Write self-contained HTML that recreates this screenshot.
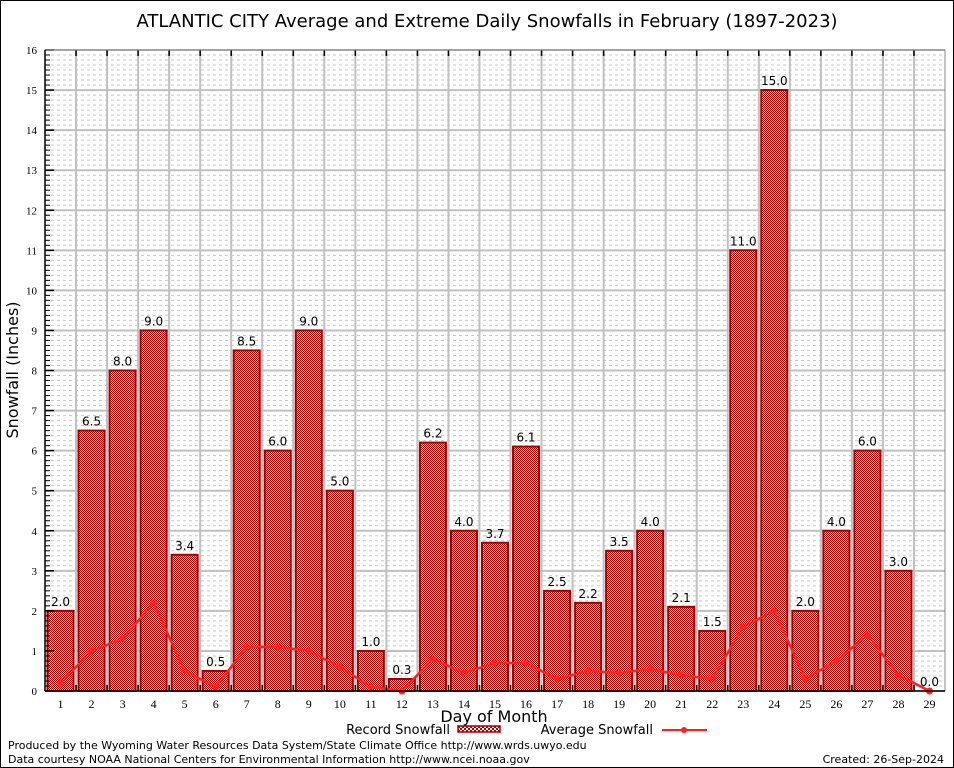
<!DOCTYPE html>
<html><head><meta charset="utf-8"><style>
body{margin:0;background:#fff}
svg{display:block;font-family:"DejaVu Sans","Liberation Sans",sans-serif}
</style></head><body>
<svg id="c" width="954" height="768" viewBox="0 0 954 768">
<defs>
<pattern id="chk" width="2" height="2" patternUnits="userSpaceOnUse"><rect width="2" height="2" fill="#f4dede"/><rect width="1" height="1" fill="#b00000"/><rect x="1" y="1" width="1" height="1" fill="#b00000"/></pattern>
<pattern id="chk2" width="4" height="4" patternUnits="userSpaceOnUse"><rect width="4" height="4" fill="#fff"/><rect width="2" height="2" fill="#c00000"/><rect x="2" y="2" width="2" height="2" fill="#c00000"/></pattern>
</defs>
<rect x="0.5" y="0.5" width="953" height="767" fill="#fff" stroke="#000"/>
<text x="487" y="27" text-anchor="middle" font-size="18">ATLANTIC CITY Average and Extreme Daily Snowfalls in February (1897-2023)</text>
<g id="grid"></g><g id="bars"></g><g id="line"></g><g id="axes"></g>
<text transform="translate(18,370) rotate(-90)" text-anchor="middle" font-size="16">Snowfall (Inches)</text>
<text x="494" y="722" text-anchor="middle" font-size="16">Day of Month</text>
<g font-size="13">
<text x="450" y="734" text-anchor="end">Record Snowfall</text>
<rect x="458" y="726" width="42" height="6" fill="url(#chk2)" stroke="#a00000" stroke-width="1.5"/>
<text x="653" y="734" text-anchor="end">Average Snowfall</text>
<line x1="662" y1="730" x2="707" y2="730" stroke="#ff2020" stroke-width="2"/>
<circle cx="684" cy="730" r="3" fill="#ff2020"/>
</g>
<text x="8" y="749" font-size="11">Produced by the Wyoming Water Resources Data System/State Climate Office http://www.wrds.uwyo.edu</text>
<text x="8" y="763" font-size="11">Data courtesy NOAA National Centers for Environmental Information http://www.ncei.noaa.gov</text>
<text x="944" y="763" font-size="11" text-anchor="end">Created: 26-Sep-2024</text>
</svg>
<script>
const days=[1,2,3,4,5,6,7,8,9,10,11,12,13,14,15,16,17,18,19,20,21,22,23,24,25,26,27,28,29];
const records=[2.0,6.5,8.0,9.0,3.4,0.5,8.5,6.0,9.0,5.0,1.0,0.3,6.2,4.0,3.7,6.1,2.5,2.2,3.5,4.0,2.1,1.5,11.0,15.0,2.0,4.0,6.0,3.0,0.0];
const averages=[0.2,1.0,1.3,2.2,0.5,0.1,1.1,1.1,1.0,0.6,0.1,0.0,0.8,0.45,0.7,0.7,0.3,0.5,0.45,0.55,0.4,0.3,1.6,2.0,0.3,0.75,1.4,0.4,0.0];
const yTicks=[0,1,2,3,4,5,6,7,8,9,10,11,12,13,14,15,16];
const L=45,R=945,T=50,B=691,YMAX=16;
const step=(R-L)/days.length;
const xs=d=>L+(d-0.5)*step;
const ys=v=>B-v/YMAX*(B-T);
const NS="http://www.w3.org/2000/svg";
function mk(tag,attrs,parent,txt){const e=document.createElementNS(NS,tag);for(const k in attrs)e.setAttribute(k,attrs[k]);if(txt!==undefined)e.textContent=txt;parent.appendChild(e);return e;}
const grid=document.getElementById('grid'),bars=document.getElementById('bars'),line=document.getElementById('line'),axes=document.getElementById('axes');
for(let v=0;v<YMAX;v+=0.125){if(Math.abs(v-Math.round(v))<1e-6)continue;const y=ys(v);
const g=mk('line',{x1:L,x2:R,y1:y,y2:y,stroke:'#c8c8c8','stroke-width':1,'stroke-dasharray':'3,3'},grid);

}
yTicks.forEach(v=>{const y=ys(v);
const g=mk('line',{x1:L,x2:R,y1:y,y2:y,stroke:'#c0c0c0','stroke-width':2},grid);


const t=mk('text',{x:L-8,y:y+4,'text-anchor':'end','font-size':11,'font-family':'Liberation Serif, serif'},axes,String(v));


mk('line',{x1:L,x2:L+9,y1:y,y2:y,stroke:'#000','stroke-width':1.5},axes);});
for(let v=0;v<YMAX;v+=0.125){const y=ys(v);mk('line',{x1:L,x2:L+5,y1:y,y2:y,stroke:'#000','stroke-width':1},axes);}
for(let i=1;i<days.length;i++){const x=L+i*step;
const g=mk('line',{x1:x,x2:x,y1:T,y2:B,stroke:'#c0c0c0','stroke-width':2},grid);


mk('line',{x1:x,x2:x,y1:T,y2:T+6,stroke:'#000','stroke-width':1.5},axes);
mk('line',{x1:x,x2:x,y1:B,y2:B-6,stroke:'#000','stroke-width':1.5},axes);}
const box=mk('rect',{x:L,y:T,width:R-L,height:B-T,fill:'none',stroke:'#888','stroke-width':1},axes);


mk('line',{x1:L,x2:L,y1:T,y2:B,stroke:'#000','stroke-width':1.5},axes);
mk('line',{x1:L,x2:R,y1:B,y2:B,stroke:'#000','stroke-width':1.5},axes);
days.forEach((d,i)=>{const x=xs(d),v=records[i],y=ys(v),w=26;
const b=mk('rect',{x:x-w/2,y:y,width:w,height:B-y,fill:'url(#chk)',stroke:'#a00000','stroke-width':2},bars);


const t=mk('text',{x:x,y:y-5,'text-anchor':'middle','font-size':12},bars,v.toFixed(1));


const xl=mk('text',{x:x,y:B+17,'text-anchor':'middle','font-size':12,'font-family':'Liberation Serif, serif'},axes,String(d));

});
const pts=days.map((d,i)=>xs(d)+','+ys(averages[i])).join(' ');
const pl=mk('polyline',{points:pts,fill:'none',stroke:'#ff2020','stroke-width':2.5,'stroke-linejoin':'round'},line);


days.forEach((d,i)=>{const c=mk('circle',{cx:xs(d),cy:ys(averages[i]),r:3.5,fill:'#ff2020'},line);

});
</script>
</body></html>
